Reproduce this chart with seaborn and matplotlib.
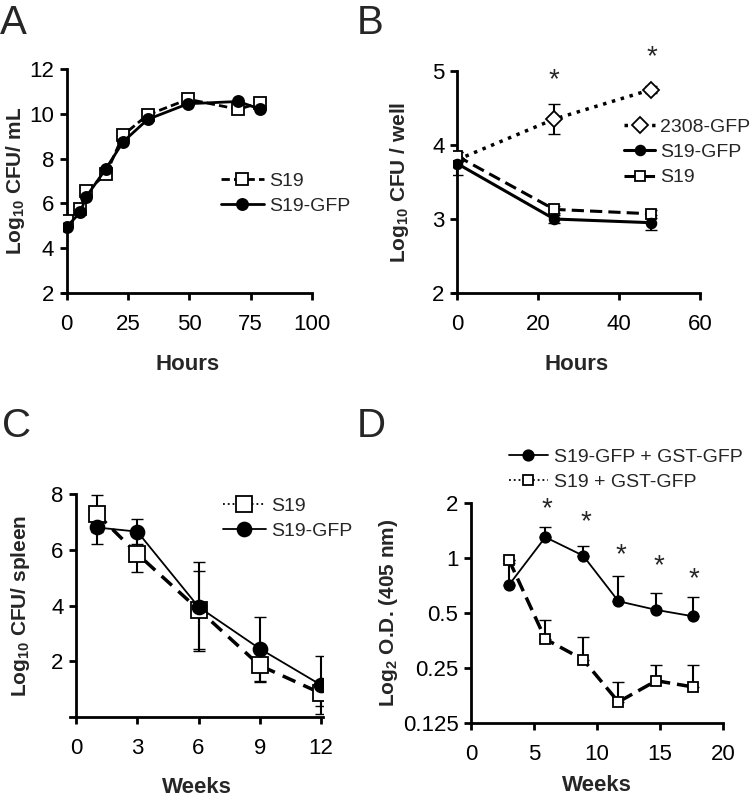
import numpy as np
import pandas as pd
import matplotlib
matplotlib.use('Agg')
import matplotlib.pyplot as plt
import seaborn as sns

# ---- data ----
# A: growth curve
a_hours = [0, 5.5, 8, 16, 23, 33, 49.5, 70, 79]
a_s19 = [5.2, 5.75, 6.55, 7.3, 9.05, 9.95, 10.65, 10.2, 10.5]
a_gfp = [4.95, 5.6, 6.3, 7.55, 8.75, 9.75, 10.45, 10.55, 10.2]

# B: intracellular survival
b_hours = [0, 24, 48]
b_2308 = [3.8, 4.35, 4.75]
b_2308_err = [0.0, 0.2, 0.05]
b_gfp = [3.75, 3.0, 2.95]
b_gfp_err = [0.15, 0.05, 0.1]
b_s19 = [3.85, 3.13, 3.07]
b_s19_err = [0.05, 0.05, 0.05]
b_star_x = [24, 48]
b_star_y = [4.88, 5.18]

# C: spleen colonisation
c_weeks = [1, 3, 6, 9, 12]
c_s19 = [7.3, 5.85, 3.85, 1.85, 0.85]
c_s19_err = [0.65, 0.65, 1.4, 0.6, 0.45]
c_gfp = [6.8, 6.65, 3.95, 2.45, 1.15]
c_gfp_err = [0.6, 0.45, 1.6, 1.15, 1.05]

# D: antibody response (O.D. 405 nm)
d_weeks = [3, 5.9, 8.9, 11.7, 14.7, 17.6]
d_gfp = [0.71, 1.30, 1.03, 0.58, 0.52, 0.48]
d_gfp_up = [0.94, 1.48, 1.17, 0.80, 0.64, 0.61]
d_s19 = [0.98, 0.36, 0.278, 0.163, 0.213, 0.197]
d_s19_up = [0.98, 0.457, 0.368, 0.21, 0.26, 0.26]
d_star_x = [6.0, 9.1, 11.9, 14.9, 17.7]
d_star_y = [1.84, 1.58, 1.04, 0.9, 0.77]

sns.set_style('ticks')
plt.rcParams['font.family'] = ['Liberation Sans', 'DejaVu Sans']
plt.rcParams['mathtext.fontset'] = 'custom'
plt.rcParams['mathtext.rm'] = 'Liberation Sans'
plt.rcParams['mathtext.bf'] = 'Liberation Sans:bold'
plt.rcParams['mathtext.default'] = 'regular'

W, H = 750, 797
fig = plt.figure(figsize=(W / 100, H / 100), dpi=100)


def make_ax(x0, y_top, x1, y_bot):
    return fig.add_axes([x0 / W, 1 - y_bot / H, (x1 - x0) / W, (y_bot - y_top) / H])


def style(ax, ylabel, xlabel, xpad, ycoord):
    sns.despine(ax=ax)
    for s in ['left', 'bottom']:
        ax.spines[s].set_linewidth(2)
        ax.spines[s].set_color('black')
    ax.tick_params(axis='both', which='both', direction='out', length=5, width=2,
                   labelsize=16, pad=10, colors='black')
    ax.tick_params(axis='y', pad=4)
    ax.set_ylabel(ylabel, fontsize=15, fontweight='bold')
    ax.set_xlabel(xlabel, fontsize=16, fontweight='bold', labelpad=xpad)
    ax.yaxis.set_label_coords(ycoord, 0.5)


def line(ax, x, y, ls, marker, filled, ms, lw, label, z):
    sns.lineplot(x=x, y=y, ax=ax, color='black', linestyle=ls, lw=lw, marker=marker,
                 markersize=ms, markerfacecolor='black' if filled else 'white',
                 markeredgecolor='black', markeredgewidth=1.3, label=label, zorder=z,
                 sort=False, legend=False)


def legend(ax, x, y, handlelength=2.2, pad=0.3):
    ax.legend(loc='upper left', bbox_to_anchor=(x / W, 1 - y / H), bbox_transform=fig.transFigure,
              frameon=False, fontsize=14, borderpad=0, borderaxespad=0, handletextpad=pad,
              labelspacing=0.4, handlelength=handlelength)
    return ax.get_legend().legend_handles


# ---- A ----
axA = make_ax(63, 69, 312, 293)
line(axA, a_hours, a_s19, (0, (3, 1.5)), 's', False, 9, 2, 'S19', 3)
line(axA, a_hours, a_gfp, '-', 'o', True, 8, 2, 'S19-GFP', 4)
axA.set_xlim(-1.5, 100)
axA.set_ylim(2, 12)
axA.set_xticks([0, 25, 50, 75, 100])
axA.set_yticks([2, 4, 6, 8, 10, 12])
axA.spines['left'].set_position(('data', 0))
style(axA, r'Log$_{10}$ CFU/ mL', 'Hours', 14, -0.145)
legend(axA, 221, 172)

# ---- B ----
axB = make_ax(453, 71, 700, 293)
for yv, ev in [(b_2308, b_2308_err), (b_gfp, b_gfp_err), (b_s19, b_s19_err)]:
    axB.errorbar(b_hours, yv, yerr=ev, fmt='none', ecolor='black', elinewidth=1.5, capsize=4, zorder=2)
line(axB, b_hours, b_2308, ':', 'D', False, 8, 2.5, '2308-GFP', 3)
line(axB, b_hours, b_gfp, '-', 'o', True, 7, 2.2, 'S19-GFP', 4)
line(axB, b_hours, b_s19, (0, (4, 2)), 's', False, 7, 2.2, 'S19', 3)
for sx, sy in zip(b_star_x, b_star_y):
    axB.text(sx, sy, '*', ha='center', va='center', fontsize=20, clip_on=False)
axB.set_xlim(-1, 60)
axB.set_ylim(2, 5)
axB.set_xticks([0, 20, 40, 60])
axB.set_yticks([2, 3, 4, 5])
axB.spines['left'].set_position(('data', 0))
style(axB, r'Log$_{10}$ CFU / well', 'Hours', 14, -0.17)
legend(axB, 624, 118, handlelength=1.6, pad=0.25)

# ---- C ----
axC = make_ax(70, 494, 323, 717)
for yv, ev in [(c_s19, c_s19_err), (c_gfp, c_gfp_err)]:
    axC.errorbar(c_weeks, yv, yerr=ev, fmt='none', ecolor='black', elinewidth=1.5, capsize=4, zorder=2)
line(axC, c_weeks, c_s19, (0, (4, 2.5)), 's', False, 11, 2.5, 'S19', 3)
line(axC, c_weeks, c_gfp, '-', 'o', True, 10, 1.3, 'S19-GFP', 4)
axC.set_xlim(-0.3, 12.1)
axC.set_ylim(0, 8)
axC.set_xticks([0, 3, 6, 9, 12])
axC.set_yticks([2, 4, 6, 8])
axC.spines['left'].set_position(('data', 0))
style(axC, r'Log$_{10}$ CFU/ spleen', 'Weeks', 13, -0.15)
hC = legend(axC, 223, 497)
hC[0].set_linestyle(':')
hC[0].set_linewidth(1.3)

# ---- D ----
axD = make_ax(471, 503, 723, 723)
axD.errorbar(d_weeks, d_gfp, yerr=[np.zeros(len(d_gfp)), np.array(d_gfp_up) - np.array(d_gfp)],
             fmt='none', ecolor='black', elinewidth=1.5, capsize=4, zorder=2)
axD.errorbar(d_weeks, d_s19, yerr=[np.zeros(len(d_s19)), np.array(d_s19_up) - np.array(d_s19)],
             fmt='none', ecolor='black', elinewidth=1.5, capsize=4, zorder=2)
line(axD, d_weeks, d_gfp, '-', 'o', True, 7.5, 1.3, 'S19-GFP + GST-GFP', 4)
line(axD, d_weeks, d_s19, (0, (4, 2)), 's', False, 7.5, 2.5, 'S19 + GST-GFP', 3)
for sx, sy in zip(d_star_x, d_star_y):
    axD.text(sx, sy, '*', ha='center', va='center', fontsize=20)
axD.set_yscale('log', base=2)
axD.set_xlim(0, 20)
axD.set_ylim(0.125, 2)
axD.set_xticks([0, 5, 10, 15, 20])
axD.set_yticks([0.125, 0.25, 0.5, 1, 2])
axD.set_yticklabels(['0.125', '0.25', '0.5', '1', '2'])
axD.minorticks_off()
style(axD, r'Log$_2$ O.D. (405 nm)', 'Weeks', 7, -0.28)
hD = legend(axD, 509, 448, handlelength=2.0)
hD[1].set_linestyle(':')
hD[1].set_linewidth(1.3)

# panel letters
for letter, x, y in [('A', 0, 4), ('B', 357, 4), ('C', 2, 407), ('D', 357, 407)]:
    fig.text(x / W, 1 - y / H, letter, fontsize=29, ha='left', va='top')

fig.savefig('out.png', dpi=100)
